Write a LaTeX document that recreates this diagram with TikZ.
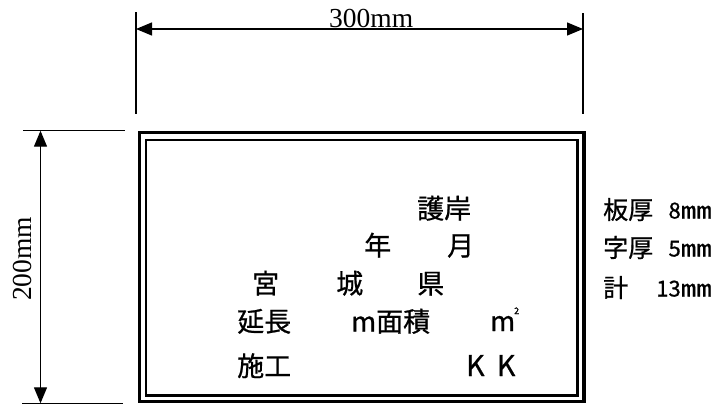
\documentclass[tikz,border=0pt]{standalone}
\usepackage{fontspec}
\setmainfont{Liberation Serif}
\newfontfamily\jp[FakeBold=0.8]{Noto Sans CJK JP}
\usetikzlibrary{arrows.meta}
\tikzset{
  dimline/.style={line width=1.3pt},
  dimarrow/.style={line width=1.3pt,{Triangle[length=16pt,width=13pt]}-{Triangle[length=16pt,width=13pt]}},
  dimtext/.style={font=\fontsize{27.5}{27.5}\selectfont, inner sep=0pt},
  boxtext/.style={font=\jp\fontsize{27}{27}\selectfont, inner sep=0pt, anchor=base west},
  sidetext/.style={font=\jp\fontsize{25}{25}\selectfont, inner sep=0pt, anchor=base west},
  sidenum/.style={font=\jp\fontsize{22}{22}\selectfont, inner sep=0pt, anchor=base east},
}
\newcommand{\sqmm}{\scalebox{1.35}[1]{\fontsize{23}{23}\selectfont ㎜}}
\begin{document}
\begin{tikzpicture}[x=1pt,y=-1pt]
\useasboundingbox (0,0) rectangle (715,405);
% plate frame
\draw[line width=3.2pt] (139.5,132.5) rectangle (584,401.5);
\draw[line width=2.8pt] (146,140) rectangle (577.5,395.5);
% horizontal dimension
\coordinate (tl1) at (136,12);
\coordinate (tl2) at (136,114);
\coordinate (tr1) at (583,13);
\coordinate (tr2) at (583,114);
\coordinate (ta) at (136,29);
\coordinate (tb) at (583,29);
\draw[dimline] (tl1) -- (tl2);
\draw[dimline] (tr1) -- (tr2);
\draw[dimarrow] (ta) -- (tb);
\node[dimtext, anchor=base west] (w) at (329,27) {300mm};
% vertical dimension
\coordinate (lt1) at (23,130.7);
\coordinate (lt2) at (125,130.7);
\coordinate (lb1) at (22,403.3);
\coordinate (lb2) at (123,403.3);
\coordinate (la) at (40.5,130.7);
\coordinate (lb) at (40.5,403.3);
\draw[dimline] (lt1) -- (lt2);
\draw[dimline] (lb1) -- (lb2);
\draw[dimarrow] (la) -- (lb);
\node[dimtext, anchor=base west, rotate=90] (h) at (31.5,301) {200mm};
% texts in the plate
\node[boxtext] (t1) at (417,218.5) {護岸};
\node[boxtext] (t2) at (364,255.5) {年};
\node[boxtext] (t3) at (447,255.5) {月};
\node[boxtext] (t4) at (252,293.5) {宮};
\node[boxtext] (t5) at (336,293.5) {城};
\node[boxtext] (t6) at (417,293.5) {県};
\node[boxtext] (t7) at (237,331.5) {延長};
\node[boxtext] (t8) at (351,331.5) {m面積};
\node[boxtext] (t9) at (490,331) {m\kern-1pt\raisebox{17pt}{\fontsize{9}{9}\selectfont 2}};
\node[boxtext] (t10) at (237,376) {施工};
\node[boxtext, font=\jp\fontsize{28.5}{28.5}\selectfont] (t11) at (466,376) {K\ \kern6pt K};
% side notes
\node[sidetext] (s1) at (603,219) {板厚};
\node[sidenum] (s1n) at (712,218.5) {8\sqmm};
\node[sidetext] (s2) at (603,257) {字厚};
\node[sidenum] (s2n) at (712,256.5) {5\sqmm};
\node[sidetext] (s3) at (603,297) {計};
\node[sidenum] (s3n) at (712,296.5) {13\sqmm};
\end{tikzpicture}
\end{document}
